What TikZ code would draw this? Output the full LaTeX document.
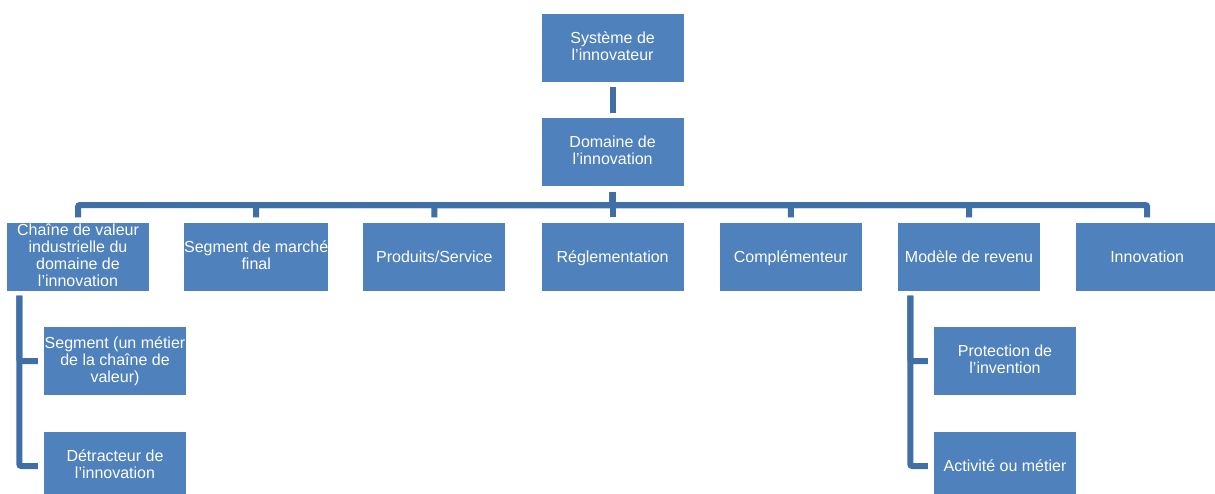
\documentclass[tikz,border=0pt]{standalone}
\usepackage{fontspec}
\setmainfont{Liberation Sans}
\definecolor{boxblue}{RGB}{79,129,189}
\definecolor{lineblue}{RGB}{64,110,166}
\tikzset{
  box/.style={fill=boxblue, text=white, minimum width=142pt, minimum height=68pt,
    inner sep=0pt, align=center, font=\fontsize{16}{17}\selectfont,
    execute at begin node={\rule{0pt}{14.6pt}},
    execute at end node={\rule[-3.6pt]{0pt}{3.6pt}}},
  conn/.style={draw=lineblue, line width=6pt, rounded corners=2pt}
}
\begin{document}
\begin{tikzpicture}[x=1pt,y=-1pt]
\clip (0,0) rectangle (1215,493);
\fill[white] (0,0) rectangle (1215,493);
\node[box] (sys) at (612.6,48) {Système de\\l’innovateur};
\node[box] (dom) at (612.6,152) {Domaine de\\l’innovation};
\node[box] (c1) at (78,256.5) {Chaîne de valeur\\industrielle du\\domaine de\\l’innovation};
\node[box] (c2) at (256.2,256.5) {Segment de marché\\final};
\node[box] (c3) at (434.4,256.5) {Produits/Service};
\node[box] (c4) at (612.6,256.5) {Réglementation};
\node[box] (c5) at (790.8,256.5) {Complémenteur};
\node[box] (c6) at (969,256.5) {Modèle de revenu};
\node[box] (c7) at (1147.2,256.5) {Innovation};
\node[box] (seg) at (115,361) {Segment (un métier\\de la chaîne de\\valeur)};
\node[box] (detr) at (115,466) {Détracteur de\\l’innovation};
\node[box] (prot) at (1005,361) {Protection de\\l’invention};
\node[box] (act) at (1005,466) {Activité ou métier};
\coordinate (busy) at (0,205);
\draw[conn] ([yshift=-5pt]sys.south) -- ([yshift=5pt]dom.north);
\foreach \c in {c1,c2,c3,c4,c5,c6,c7}
  \draw[conn] ([yshift=-6pt]dom.south) -- (dom.south |- busy) -| ([yshift=5pt]\c.north);
\foreach \s in {seg,detr}
  \draw[conn] ([xshift=12.5pt,yshift=-5pt]c1.south west) |- ([xshift=-6pt]\s.west);
\foreach \s in {prot,act}
  \draw[conn] ([xshift=12.5pt,yshift=-5pt]c6.south west) |- ([xshift=-6pt]\s.west);
\end{tikzpicture}
\end{document}
